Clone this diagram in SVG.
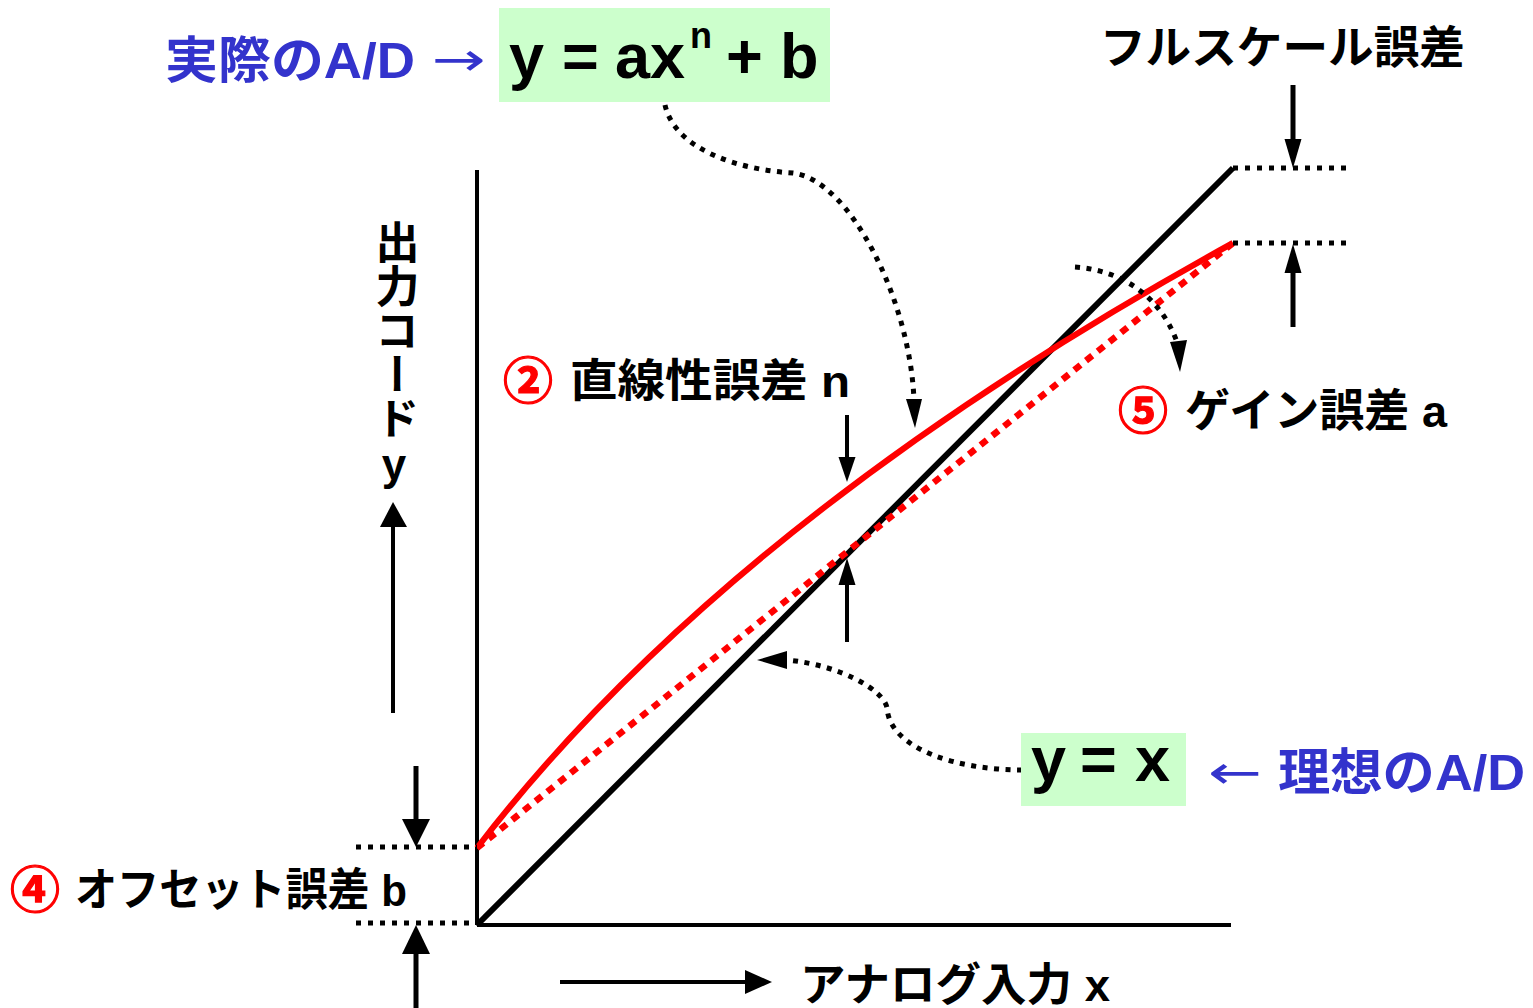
<svg xmlns="http://www.w3.org/2000/svg" width="1533" height="1008" viewBox="0 0 1533 1008">
<style>
  text { font-family: "Liberation Sans", "Noto Sans CJK JP", sans-serif; font-weight: bold; }
  .jp { font-size: 45px; fill: #000; }
  .red { fill: #ff0000; stroke: #ff0000; stroke-width: 1.2; font-size: 50px; }
  .blue { fill: #3333cc; font-size: 50px; }
  .arr { fill: #3333cc; font-family: "DejaVu Sans", sans-serif; font-weight: normal; font-size: 46px; }
  .eq { font-size: 63px; fill: #000; }
  .box { fill: #ccffcc; }
  .axis { stroke: #000; stroke-width: 4; fill: none; }
  .ideal { stroke: #000; stroke-width: 6; fill: none; }
  .actual { stroke: #ff0000; stroke-width: 6; fill: none; }
  .actlin { stroke: #ff0000; stroke-width: 6.5; fill: none; stroke-dasharray: 8 7; }
  .guide { stroke: #000; stroke-width: 5; fill: none; stroke-dasharray: 5 7; }
  .dotc { stroke: #000; stroke-width: 5; fill: none; stroke-dasharray: 5 6.5; }
  .shaft { stroke: #000; stroke-width: 5; fill: none; }
  .thin { stroke: #000; stroke-width: 4; fill: none; }
  .head { fill: #000; }
</style>

<g id="plot">
  <line class="axis" x1="477" y1="170" x2="477" y2="925"/>
  <line class="axis" x1="477" y1="925" x2="1231" y2="925"/>
  <line class="ideal" x1="477" y1="925" x2="1233" y2="168"/>
  <line class="actlin" x1="477" y1="848" x2="1233" y2="243"/>
  <path class="actual" d="M477,848 Q729,520 1233,243"/>
  <line class="guide" x1="1233" y1="168" x2="1353" y2="168"/>
  <line class="guide" x1="1233" y1="243" x2="1353" y2="243"/>
  <line class="guide" x1="356" y1="847" x2="477" y2="847"/>
  <line class="guide" x1="356" y1="923" x2="477" y2="923"/>
</g>

<g id="connectors">
  <!-- full scale error arrows -->
  <line class="shaft" x1="1293" y1="85" x2="1293" y2="142"/>
  <polygon class="head" points="1284.5,139 1301.5,139 1293,168"/>
  <line class="shaft" x1="1293" y1="327" x2="1293" y2="270"/>
  <polygon class="head" points="1284.5,273 1301.5,273 1293,244"/>
  <!-- linearity arrows -->
  <line class="thin" x1="847" y1="415" x2="847" y2="460"/>
  <polygon class="head" points="838.5,457 855.5,457 847,482"/>
  <line class="thin" x1="847" y1="642" x2="847" y2="582"/>
  <polygon class="head" points="838.5,585 855.5,585 847,558"/>
  <!-- offset arrows -->
  <line class="shaft" x1="416" y1="766" x2="416" y2="822"/>
  <polygon class="head" points="402,819 430,819 416,847"/>
  <line class="shaft" x1="416" y1="1008" x2="416" y2="952"/>
  <polygon class="head" points="402,954 430,954 416,925"/>
  <!-- axis direction arrows -->
  <line class="thin" x1="393" y1="713" x2="393" y2="524"/>
  <polygon class="head" points="380,527 407,527 393,502"/>
  <line class="thin" x1="560" y1="982" x2="748" y2="982"/>
  <polygon class="head" points="745,970 745,994 772,982"/>
  <!-- dotted callouts -->
  <path class="dotc" d="M665,105 C675,150 740,170 793,173 C850,180 910,300 914,400"/>
  <polygon class="head" points="906,399 922,399 915,428"/>
  <path class="dotc" d="M1075,267 C1120,270 1160,295 1177,342"/>
  <polygon class="head" points="1170,342 1187,340 1180,372"/>
  <path class="dotc" d="M1022,770 C960,770 890,750 887,708 C884,690 840,665 787,660"/>
  <polygon class="head" points="787,651 787,669 757,660"/>
</g>

<g id="actual-formula">
  <rect class="box" x="499" y="8" width="331" height="94"/>
  <text class="eq" y="78"><tspan x="509">y</tspan><tspan x="562">=</tspan><tspan x="615">ax</tspan></text>
  <text class="eq" x="690" y="48" style="font-size:36px">n</text>
  <text class="eq" x="726" y="78">+</text>
  <text class="eq" x="780" y="78">b</text>
</g>

<g id="actual-label">
  <text class="blue" x="165" y="78" textLength="250" lengthAdjust="spacingAndGlyphs">実際のA/D</text>
  <text class="arr" transform="translate(432,75) scale(1.4,1)">→</text>
</g>

<g id="ideal-formula">
  <rect class="box" x="1021" y="733" width="165" height="73"/>
  <text class="eq" y="781"><tspan x="1031">y</tspan><tspan x="1080">=</tspan><tspan x="1135">x</tspan></text>
</g>

<g id="ideal-label">
  <text class="arr" transform="translate(1208,788) scale(1.4,1)">←</text>
  <text class="blue" x="1278" y="790" textLength="247" lengthAdjust="spacingAndGlyphs">理想のA/D</text>
</g>

<g id="fullscale-label">
  <text class="jp" x="1100" y="64" textLength="365" lengthAdjust="spacingAndGlyphs">フルスケール誤差</text>
</g>

<g id="linearity-label">
  <text class="jp red" x="503" y="399">②</text>
  <text class="jp" x="570" y="397" textLength="280" lengthAdjust="spacingAndGlyphs">直線性誤差 n</text>
</g>

<g id="gain-label">
  <text class="jp red" x="1118" y="429">⑤</text>
  <text class="jp" x="1185" y="427" textLength="262" lengthAdjust="spacingAndGlyphs">ゲイン誤差 a</text>
</g>

<g id="offset-label">
  <text class="jp red" x="10" y="908">④</text>
  <text class="jp" x="75" y="906" textLength="332" lengthAdjust="spacingAndGlyphs">オフセット誤差 b</text>
</g>

<g id="x-label">
  <text class="jp" x="800" y="1001" textLength="310" lengthAdjust="spacingAndGlyphs">アナログ入力 x</text>
</g>

<g id="y-label">
  <text class="jp" x="394" y="220" style="writing-mode: vertical-rl; text-orientation: upright; font-size:44px">出力コードy</text>
</g>
</svg>
